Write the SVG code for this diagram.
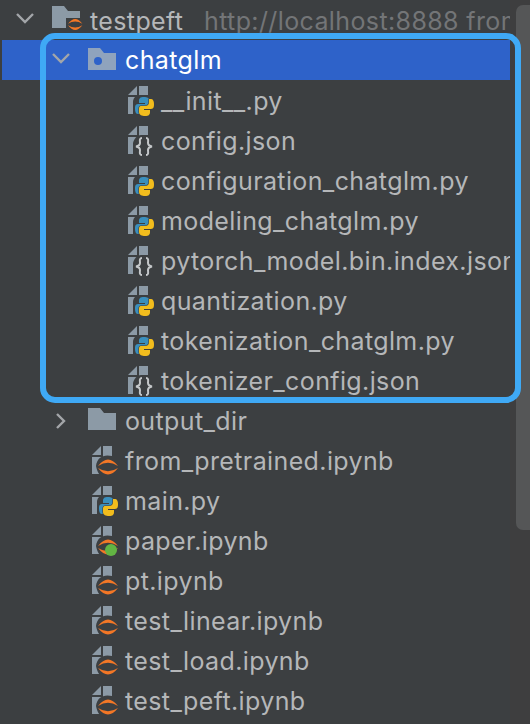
<svg xmlns="http://www.w3.org/2000/svg" xmlns:xlink="http://www.w3.org/1999/xlink" width="530" height="724" viewBox="0 0 530 724">
<style>
text{font-family:"Inter","Liberation Sans",sans-serif;font-size:25px;letter-spacing:.38px;fill:#b5b7b9}
.sel{fill:#ffffff}
.dim{fill:#737577}
.chev{fill:none;stroke:#a3a6a9;stroke-width:2.4}
.g{fill:#8c9aa6}
</style>
<defs>
<clipPath id="c"><rect x="0" y="0" width="510" height="724"/></clipPath>
<g id="file"><path class="g" d="M0 9 L9 0 V9 Z"/><path class="g" d="M11 0 H20 V28 H0 V11 H11 Z"/></g>
<g id="py">
<path fill="#3a8fbd" stroke="#3c3f41" stroke-width="1.2" paint-order="stroke" d="M9 0 C5 0 4 1.5 4 4 V6 H10 V7 H3 C0 7 0 10 0 12 C0 15 1 17 3 17 H5 V14 C5 11 7 10 9 10 H13 C15 10 15 8 15 7 V4 C15 1 12 0 9 0 Z"/>
<path fill="#f2bd1d" stroke="#3c3f41" stroke-width="1.2" paint-order="stroke" transform="rotate(180 9.5 9.5)" d="M9 0 C5 0 4 1.5 4 4 V6 H10 V7 H3 C0 7 0 10 0 12 C0 15 1 17 3 17 H5 V14 C5 11 7 10 9 10 H13 C15 10 15 8 15 7 V4 C15 1 12 0 9 0 Z"/>
</g>
<g id="pyfile"><use xlink:href="#file"/><path fill="#3c3f41" d="M20 9 H12 C8 9 5 12 5 16 V32 H28 V9 Z"/><use xlink:href="#py" transform="translate(7 11)"/></g>
<g id="jup"><path fill="#f37726" d="M0 8 Q10 -5 20 8 Q10 1.5 0 8 Z M0 10 Q10 23 20 10 Q10 16.5 0 10 Z"/></g>
<g id="jfile"><use xlink:href="#file"/><path fill="#3c3f41" d="M20 10 C12 8 5 11 4 20 C5 26 8 29 10 32 H28 V10 Z"/><use xlink:href="#jup" transform="translate(6 12)"/></g>
<g id="jsonfile"><use xlink:href="#file"/><path fill="#3c3f41" d="M20 9 H13 C9 9 6 13 5 17 V32 H28 V9 Z"/><path fill="none" stroke="#c4c7c9" stroke-width="2" d="M14 12 C11 12 12 15 12 17 C12 19 10.500 20 8 20.500 C10.500 21 12 22 12 24 C12 26 11 29 14 29 M18 12 C21 12 20 15 20 17 C20 19 21.500 20 24 20.500 C21.500 21 20 22 20 24 C20 26 21 29 18 29"/></g>
<path id="folder" d="M0 0 H12 L16 5 H28 V22 H0 Z"/>
</defs>
<rect width="530" height="724" fill="#3c3f41"/>
<rect x="510" width="20" height="724" fill="#3e3e3f"/>
<rect id="scrollbar" x="516" y="5" width="20" height="525" rx="7" fill="#555657"/>
<rect id="selection" x="2" y="40" width="508" height="40" fill="#2e62c9"/>
<g id="connectors"></g>
<g id="testpeft">
<path class="chev" d="M17 14 L25 22 L33 14"/>
<use xlink:href="#folder" x="52" y="6" class="g"/>
<path fill="#3c3f41" d="M66 18 H84 V34 H66 Z"/>
<use xlink:href="#jup" transform="translate(68 18) scale(.72)"/>
<g clip-path="url(#c)"><text x="90" y="30">testpeft</text><text x="204" y="30" class="dim">http://localhost:8888 from</text></g>
</g>
<g id="chatglm">
<path class="chev" d="M53 54 L61 62 L69 54"/>
<use xlink:href="#folder" x="88" y="48" fill="#8fa3bd"/>
<circle cx="98" cy="61" r="4" fill="#2e62c9"/>
<text x="125" y="69" class="sel">chatglm</text>
</g>
<g id="init"><use xlink:href="#pyfile" x="128" y="86"/><text x="161" y="110">__init__.py</text></g>
<g id="config"><use xlink:href="#jsonfile" x="128" y="126"/><text x="161" y="150">config.json</text></g>
<g id="configuration"><use xlink:href="#pyfile" x="128" y="166"/><text x="161" y="190">configuration_chatglm.py</text></g>
<g id="modeling"><use xlink:href="#pyfile" x="128" y="206"/><text x="161" y="230">modeling_chatglm.py</text></g>
<g id="index"><use xlink:href="#jsonfile" x="128" y="246"/><g clip-path="url(#c)"><text x="161" y="270">pytorch_model.bin.index.json</text></g></g>
<g id="quantization"><use xlink:href="#pyfile" x="128" y="286"/><text x="161" y="310">quantization.py</text></g>
<g id="tokenization"><use xlink:href="#pyfile" x="128" y="326"/><text x="161" y="350">tokenization_chatglm.py</text></g>
<g id="tokenizer"><use xlink:href="#jsonfile" x="128" y="366"/><text x="161" y="390">tokenizer_config.json</text></g>
<g id="output_dir">
<path class="chev" d="M57 414 L64 421 L57 428"/>
<use xlink:href="#folder" x="88" y="408" class="g"/>
<text x="125" y="430">output_dir</text>
</g>
<g id="from_pretrained"><use xlink:href="#jfile" x="92" y="446"/><text x="125" y="470">from_pretrained.ipynb</text></g>
<g id="main"><use xlink:href="#pyfile" x="92" y="486"/><text x="125" y="510">main.py</text></g>
<g id="paper"><use xlink:href="#jfile" x="92" y="526"/><circle cx="111" cy="550" r="6" fill="#62b543"/><text x="125" y="550">paper.ipynb</text></g>
<g id="pt"><use xlink:href="#jfile" x="92" y="566"/><text x="125" y="590">pt.ipynb</text></g>
<g id="test_linear"><use xlink:href="#jfile" x="92" y="606"/><text x="125" y="630">test_linear.ipynb</text></g>
<g id="test_load"><use xlink:href="#jfile" x="92" y="646"/><text x="125" y="670">test_load.ipynb</text></g>
<g id="test_peft"><use xlink:href="#jfile" x="92" y="686"/><text x="125" y="710">test_peft.ipynb</text></g>
<rect id="highlight" x="43" y="36" width="475" height="364" rx="12" fill="none" stroke="#3fa9f5" stroke-width="6"/>
</svg>
